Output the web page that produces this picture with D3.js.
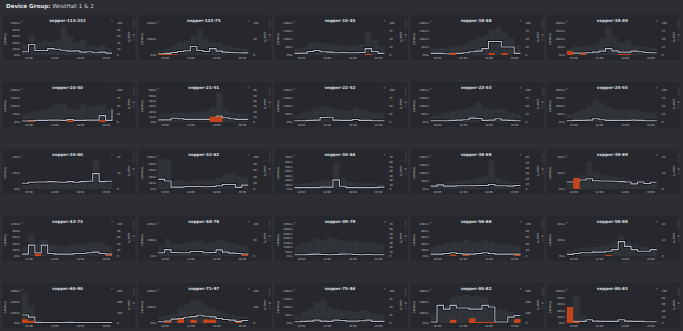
<!DOCTYPE html>
<html><head><meta charset="utf-8">
<script src="https://cdn.jsdelivr.net/npm/d3@7"></script>
<style>
html,body{margin:0;padding:0;background:#2c2e33;}
svg{display:block;font-family:"DejaVu Sans",sans-serif;}
</style></head><body>
<svg id="chart" width="683" height="331"></svg>
<script>
// Device names, one small-multiple panel each (5 x 5 grid, row by row)
const devices = [
  "vepper-113-231","vepper-123-75","vepper-15-45","vepper-18-48","vepper-19-49",
  "vepper-20-50","vepper-21-51","vepper-22-52","vepper-23-53","vepper-25-55",
  "vepper-30-60","vepper-32-62","vepper-34-64","vepper-38-68","vepper-39-69",
  "vepper-43-73","vepper-48-78","vepper-49-79","vepper-56-86","vepper-58-88",
  "vepper-60-90","vepper-71-97","vepper-75-86","vepper-80-82","vepper-80-83"
];

// Half-hour readings 09:30 .. 16:30 (15 points; the last one closes the step line)
const latencyMs = [
  [10,33,14,14,20,18,15,12,13,9,10,7,9,6,6],
  [8,10,16,22,27,53,28,22,40,24,18,16,14,13,13],
  [10,12,22,28,20,18,14,16,14,14,16,40,22,10,10],
  [10,10,8,10,10,14,20,24,40,84,84,50,50,10,10],
  [10,12,12,14,18,24,40,26,18,18,24,20,16,14,14],
  [6,8,10,10,12,12,10,16,10,10,12,12,40,10,80],
  [4,4,7,6,5,5,5,5,5,11,8,6,5,5,5],
  [8,8,10,12,28,30,12,10,10,16,10,10,8,8,8],
  [8,8,8,10,12,14,24,22,10,12,20,12,10,8,8],
  [8,10,10,12,20,14,10,10,10,10,12,10,8,8,8],
  [3.6,4.2,4.4,4.4,4.6,4.4,4.2,4.6,4.2,4.6,4.8,9.6,4.6,4.8,4.8],
  [30,25,6,6,8,8,8,7,8,10,14,14,5,12,12],
  [3,3,3,3,4,4,20,6,3,3,3,3,3,4,4],
  [18,26,18,18,20,20,20,22,22,28,20,20,18,22,22],
  [4.4,4.6,5.6,6.4,5.2,5,5,4.8,4.6,4.4,3.2,4.4,3.4,4.2,4.2],
  [6,34,10,34,8,6,6,6,8,8,10,12,8,6,6],
  [20,40,22,20,20,28,28,20,22,38,24,18,16,12,12],
  [14,14,18,20,16,14,16,20,22,16,14,16,14,14,14],
  [6,6,8,10,8,6,6,8,10,8,6,6,6,6,6],
  [1,1.6,2,2,2.4,2.4,3,4,9,6,4,3,3,4,4],
  [75,55,6,5,5,5,5,6,5,5,5,5,5,5,5],
  [8,12,24,28,36,40,48,42,38,28,22,18,10,16,16],
  [8,10,12,18,12,10,18,16,12,12,14,18,10,10,10],
  [10,165,130,165,140,140,130,130,165,150,10,10,55,70,70],
  [6,5,5,10,6,5,5,5,10,6,5,5,4,4,4]
];

// Packet loss per half-hour bucket (14 buckets)
const lossPct = [
  [0,0,0,0,0,0,0,0,0,0,0,0,0,0],
  [3,3,2,0,0,0,0,0,0,0,0,0,0,0],
  [0,0,0,0,0,0,0,0,0,0,0,3,0,0],
  [0,0,0,6,0,0,0,0,0,6,0,6,0,0],
  [12,0,5,0,0,0,0,0,3,3,0,0,0,0],
  [0,3,0,0,0,0,0,5,0,0,0,0,6,0],
  [0,0,0,0,0,0,0,0,10,10,0,0,0,0],
  [0,0,0,0,0,0,0,0,0,0,0,0,0,0],
  [0,0,0,0,0,0,0,0,0,0,0,0,0,0],
  [0,0,0,0,0,0,0,0,0,0,0,0,0,0],
  [0,0,0,0,0,0,0,0,0,0,0,0,0,0],
  [0,0,0,0,0,0,0,0,0,0,0,0,0,0],
  [0,0,0,0,0,0,0,0,0,0,0,0,0,0],
  [0,0,0,0,0,0,0,0,0,0,0,0,0,0],
  [0,7,0,0,0,0,0,0,0,0,0,0,0,0],
  [0,0,8,0,0,0,0,0,0,0,0,0,0,4],
  [0,0,0,0,0,0,0,0,0,0,0,0,0,5],
  [0,0,0,0,0,0,0,0,0,0,0,0,0,0],
  [0,0,0,4,0,3,0,0,0,0,0,0,0,4],
  [0,0,0,0,0,0,0.6,0,0,0,0,0,0,0],
  [35,20,0,0,0,0,0,0,0,0,0,0,0,0],
  [0,10,0,25,0,20,0,22,22,0,0,0,6,0],
  [0,0,0,0,0,0,0,0,0,0,0,0,0,0],
  [0,0,0,30,0,0,45,10,10,10,0,0,0,36],
  [50,4,0,0,0,0,0,0,0,0,0,0,0,0]
];

// Session counts per bucket (background bars, relative scale 0-100)
const sessions = [
  [35,62,40,45,42,50,92,60,38,48,30,25,32,22],
  [15,20,30,40,45,60,78,55,40,38,30,25,22,20],
  [20,25,38,40,38,35,32,30,28,30,35,72,50,25],
  [20,25,22,28,30,35,45,55,62,80,88,70,55,30],
  [20,28,25,30,35,55,88,55,40,45,30,28,25,22],
  [25,32,35,38,45,55,60,42,40,55,45,50,55,40],
  [20,25,28,30,28,30,32,35,45,92,40,30,28,25],
  [22,30,35,42,50,45,40,38,35,45,38,35,30,28],
  [20,25,30,35,38,42,48,62,45,40,42,38,30,25],
  [25,30,38,50,70,60,45,40,35,38,40,35,30,28],
  [12,15,18,15,18,20,22,25,22,28,30,92,28,22],
  [95,92,25,28,22,25,28,25,30,35,45,50,40,35],
  [15,18,20,22,25,30,85,35,22,20,18,20,18,15],
  [15,18,20,22,25,28,30,35,40,90,35,28,22,20],
  [25,30,45,85,55,45,40,38,35,30,28,30,25,22],
  [30,70,40,52,35,32,30,35,40,38,42,45,40,30],
  [30,55,35,38,42,45,48,40,42,50,45,40,35,30],
  [30,40,45,55,50,60,55,50,45,48,42,45,40,35],
  [28,35,40,45,42,50,45,40,48,45,40,38,35,30],
  [18,22,25,28,30,32,38,45,62,45,35,30,28,25],
  [95,55,8,6,5,5,5,5,5,5,5,5,5,5],
  [20,25,30,45,60,72,68,55,45,38,30,25,22,20],
  [25,35,45,65,70,50,45,40,38,35,40,38,30,25],
  [30,45,55,80,85,88,82,85,80,60,45,40,35,30],
  [10,85,25,12,10,10,10,10,10,10,10,10,10,8]
];

// Axis ranges: [max, step] for latency (ms) and loss (%)
const latencyAxis = [
  [100,20],[200,100],[200,50],[200,50],[200,50],
  [200,50],[60,10],[200,50],[200,50],[200,50],
  [20,10],[100,20],[70,10],[200,50],[20,10],
  [100,20],[200,100],[350,50],[100,20],[20,10],
  [300,100],[200,100],[200,50],[300,100],[100,20]
];
const lossAxis = [
  [100,20],[100,50],[100,25],[100,25],[100,25],
  [100,25],[60,10],[100,25],[100,25],[100,25],
  [20,10],[100,20],[70,10],[60,10],[20,10],
  [100,20],[100,50],[70,10],[100,20],[20,10],
  [300,100],[200,100],[100,25],[300,100],[100,20]
];

const timeTicks = ["10:00","12:00","14:00","16:00"];

const parseTime = d3.timeParse("%H:%M");
const dayStart = parseTime("09:30");
const times = d3.range(15).map(i => d3.timeMinute.offset(dayStart, 30 * i));
const tickTimes = timeTicks.map(parseTime);

const svg = d3.select("#chart");

// Heading
const head = svg.append("text").attr("x", 6).attr("y", 7.6)
  .attr("font-size", 5.6).attr("fill", "#e4e5e8");
head.append("tspan").attr("font-weight", "bold").text("Device Group: ");
head.append("tspan").attr("fill", "#cfd1d6").text("WestHall 1 & 2");

const colW = 136.2, rowH = 67, panelW = 134.6, panelH = 47;
const C = {
  panel: "#26282d", border: "#33363b", bars: "#303338",
  line: "#b3b8c8", outline: "#0c0d0f", loss: "#c4451b",
  tick: "#c4c6cc", label: "#cdd0d4", title: "#dfe0e4", faint: "#6b6e75"
};

devices.forEach((name, i) => {
  const col = i % 5, row = Math.floor(i / 5);
  const x0 = 1.5 + col * colW, y0 = 14 + row * rowH;
  const g = svg.append("g").attr("transform", `translate(${x0},${y0})`);

  g.append("rect").attr("width", panelW).attr("height", panelH).attr("rx", 2)
    .attr("fill", C.panel).attr("stroke", C.border).attr("stroke-width", 0.6);

  const left = 20.5, right = 110.5, top = 9, bottom = 41;
  const x = d3.scaleTime().domain([times[0], times[14]]).range([left, right]);
  const [lMax, lStep] = latencyAxis[i];
  const [pMax, pStep] = lossAxis[i];
  const yL = d3.scaleLinear().domain([0, lMax]).range([bottom, top]);
  const yP = d3.scaleLinear().domain([0, pMax]).range([bottom, top]);
  const yS = d3.scaleLinear().domain([0, 100]).range([bottom, top]);

  // background session bars
  g.append("g").selectAll("rect").data(sessions[i]).join("rect")
    .attr("x", (d, k) => x(times[k]))
    .attr("width", (d, k) => x(times[k + 1]) - x(times[k]))
    .attr("y", d => yS(d)).attr("height", d => bottom - yS(d))
    .attr("fill", C.bars);

  // latency step line with dark outline
  const pts = latencyMs[i].map((v, k) => [times[k], v]);
  const line = d3.line().x(d => x(d[0])).y(d => yL(d[1])).curve(d3.curveStepAfter);
  g.append("path").attr("d", line(pts)).attr("fill", "none")
    .attr("stroke", C.outline).attr("stroke-width", 2.5).attr("stroke-linejoin", "miter");
  g.append("path").attr("d", line(pts)).attr("fill", "none")
    .attr("stroke", C.line).attr("stroke-width", 1.1);

  // loss bars
  g.append("g").selectAll("rect").data(lossPct[i].map((v, k) => [k, v]).filter(d => d[1] > 0)).join("rect")
    .attr("x", d => x(times[d[0]]))
    .attr("width", d => x(times[d[0] + 1]) - x(times[d[0]]))
    .attr("y", d => yP(d[1])).attr("height", d => bottom - yP(d[1]))
    .attr("fill", C.loss);

  // axes
  const axL = d3.axisLeft(yL).tickValues(d3.range(0, lMax + lStep / 2, lStep))
    .tickFormat(d => d + "ms").tickSize(0).tickPadding(2);
  const gl = g.append("g").attr("transform", `translate(${left},0)`).call(axL);
  const axR = d3.axisRight(yP).tickValues(d3.range(0, pMax + pStep / 2, pStep))
    .tickSize(0).tickPadding(5);
  const gr = g.append("g").attr("transform", `translate(${right},0)`).call(axR);
  const axB = d3.axisBottom(x).tickValues(tickTimes).tickFormat(d3.timeFormat("%H:%M"))
    .tickSize(0).tickPadding(2.5);
  const gb = g.append("g").attr("transform", `translate(0,${bottom})`).call(axB);
  [gl, gr, gb].forEach(a => {
    a.select(".domain").remove();
    a.selectAll("text").attr("font-size", 2.7).attr("fill", C.tick)
      .attr("font-family", "DejaVu Sans, sans-serif");
  });

  // small corner marks at the top of both value axes
  g.append("line").attr("x1", left).attr("x2", left).attr("y1", top - 1.8).attr("y2", top - 0.6)
    .attr("stroke", "#b8bbc2").attr("stroke-width", 0.6);
  g.append("line").attr("x1", right).attr("x2", right).attr("y1", top - 2.8).attr("y2", top - 1.6)
    .attr("stroke", "#b8bbc2").attr("stroke-width", 0.6);

  // titles
  g.append("text").attr("x", 66).attr("y", 8.2).attr("text-anchor", "middle")
    .attr("font-size", 4.1).attr("font-weight", "bold").attr("fill", C.title).text(name);
  g.append("text").attr("transform", `translate(4.8,${(top + bottom) / 2}) rotate(-90)`)
    .attr("text-anchor", "middle").attr("font-size", 3).attr("fill", C.label).text("Latency");
  g.append("text").attr("transform", `translate(126.5,${(top + bottom) / 2 - 2}) rotate(90)`)
    .attr("text-anchor", "middle").attr("font-size", 3).attr("fill", C.label).text("Loss %");

  // legend at the panel edge
  g.append("text").attr("transform", `translate(131.5,3.5) rotate(90)`)
    .attr("font-size", 2.2).attr("fill", C.faint).text("— latency");
  g.append("text").attr("transform", `translate(131.5,20) rotate(90)`)
    .attr("font-size", 2.2).attr("fill", C.faint).text("■ loss");
});
</script>
</body></html>
